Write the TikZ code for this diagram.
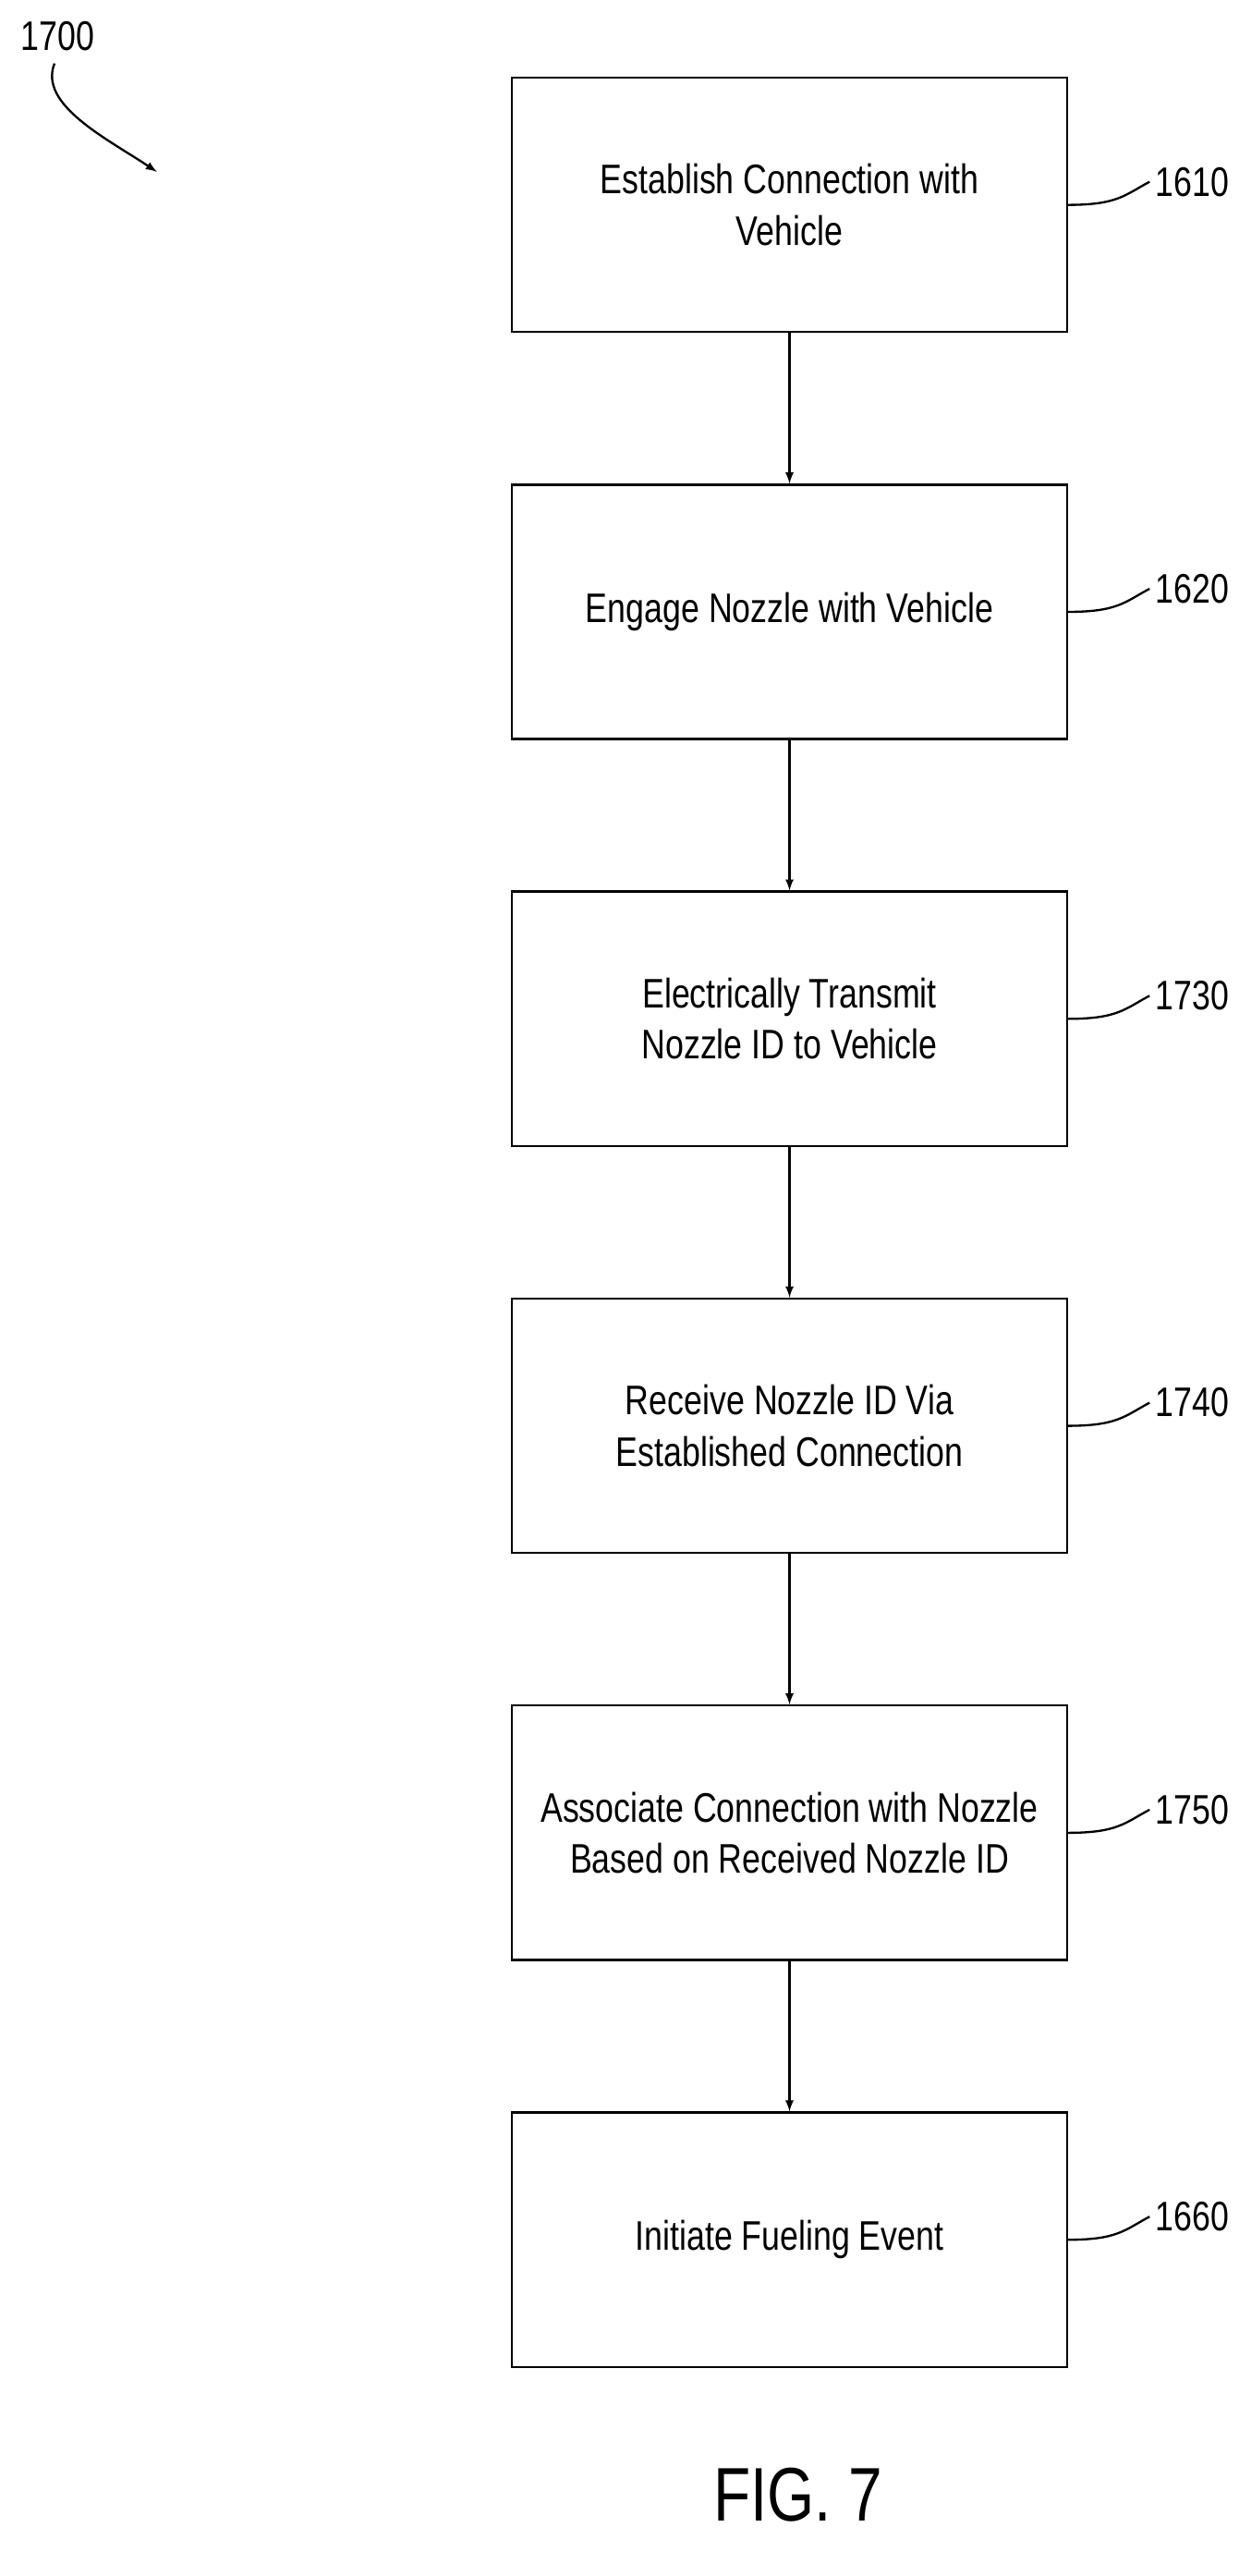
\documentclass[tikz,border=0pt]{standalone}
\usepackage{fontspec}
\setmainfont{Liberation Sans}[FakeStretch=0.8]
\begin{document}
\begin{tikzpicture}[x=1pt,y=-1pt,
  stepbox/.style={draw, line width=1.3pt, minimum width=336pt, minimum height=154pt,
    align=center, font=\fontsize{25}{31}\selectfont},
  flow/.style={->, >=latex, line width=1.3pt},
  lead/.style={line width=1.3pt},
  num/.style={anchor=west, font=\fontsize{25}{30}\selectfont}]

  \useasboundingbox (0,0) rectangle (750,1559);

  \newcommand\C{478}
  \newcommand\D{246.3}

  \node[stepbox] (s1) at (\C, 124) {Establish Connection with\\Vehicle};
  \node[stepbox] (s2) at (\C, 124+\D) {Engage Nozzle with Vehicle};
  \node[stepbox] (s3) at (\C, 124+2*\D) {Electrically Transmit\\Nozzle ID to Vehicle};
  \node[stepbox] (s4) at (\C, 124+3*\D) {Receive Nozzle ID Via\\Established Connection};
  \node[stepbox] (s5) at (\C, 124+4*\D) {Associate Connection with Nozzle\\Based on Received Nozzle ID};
  \node[stepbox] (s6) at (\C, 124+5*\D) {Initiate Fueling Event};

  \draw[flow] (s1) -- (s2);
  \draw[flow] (s2) -- (s3);
  \draw[flow] (s3) -- (s4);
  \draw[flow] (s4) -- (s5);
  \draw[flow] (s5) -- (s6);

  %% reference numbers
  \foreach \i/\t in {1/1610, 2/1620, 3/1730, 4/1740, 5/1750, 6/1660} {
    \node[num] (n\i) at (696, 110+\D*\i-\D) {\t};
    \draw[lead] (s\i.east) .. controls +(30,0) and +(-15,8) .. (n\i.west);
  }

  \node[font=\fontsize{25}{30}\selectfont] (fig) at (35, 22) {1700};
  \coordinate (tip) at (95, 104);
  \draw[flow] (fig.south) ++(-2,4) .. controls +(-10,25) and +(-30,-20) .. (tip);

  \node[font=\fontsize{46}{50}\selectfont] (cap) at (483, 1510) {FIG. 7};
\end{tikzpicture}
\end{document}
